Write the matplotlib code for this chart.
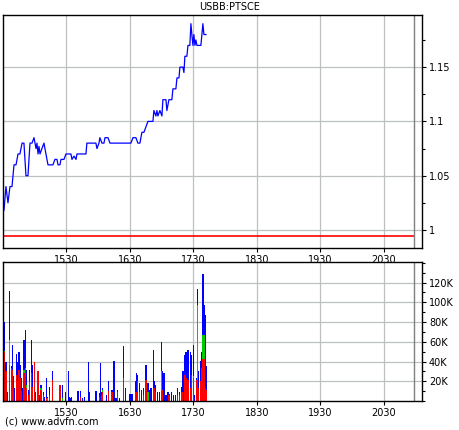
import matplotlib
matplotlib.use("Agg")
import matplotlib.pyplot as plt
from matplotlib.ticker import MultipleLocator, FixedLocator, FuncFormatter

# session starts 14:30, times are minutes after the open
open_min = 14 * 60 + 30

price_t = [0, 0.9, 2.8, 4.7, 6.6, 8.5, 10.4, 12.3, 14.2, 16, 18, 19.8, 21.7, 23.6,
           25.5, 27.4, 29.3, 31.2, 32.1, 33.1, 34, 35, 36.8, 38.7, 40.6, 42.5, 44.4,
           47.2, 49.1, 51, 52, 53.8, 54.8, 57.6, 59.5, 61.4, 64.2, 65.2, 67.1, 69,
           69.9, 72.7, 78.4, 79.3, 87.8, 88.8, 90.7, 91.6, 93.5, 95.4, 96.4, 99.2,
           101.1, 120.9, 122.8, 125.6, 127.5, 129.4, 131.3, 133.2, 135.1, 137, 138.9,
           141.7, 142.6, 144.5, 145.5, 146.4, 148.3, 150.2, 151.1, 154, 154.9, 156.8,
           159.6, 160.6, 163.4, 164.4, 166.3, 167.2, 170, 171, 171.9, 173.8, 174.8,
           176.6, 177.6, 178.5, 179.5, 180.4, 181.4, 182.3, 183.3, 185.1, 187, 188,
           188.9, 189.9, 191.8]
price = [1.028, 1.018, 1.04, 1.025, 1.04, 1.04, 1.06, 1.06, 1.07, 1.07, 1.08, 1.08,
         1.05, 1.05, 1.08, 1.08, 1.085, 1.075, 1.08, 1.07, 1.077, 1.07, 1.075, 1.08,
         1.07, 1.06, 1.06, 1.06, 1.065, 1.065, 1.06, 1.06, 1.065, 1.065, 1.07, 1.07,
         1.07, 1.065, 1.068, 1.065, 1.07, 1.07, 1.07, 1.08, 1.08, 1.075, 1.08, 1.085,
         1.08, 1.08, 1.085, 1.085, 1.08, 1.08, 1.085, 1.085, 1.08, 1.08, 1.09, 1.09,
         1.095, 1.10, 1.10, 1.10, 1.11, 1.105, 1.11, 1.105, 1.11, 1.105, 1.12, 1.12,
         1.11, 1.12, 1.12, 1.13, 1.13, 1.14, 1.14, 1.15, 1.15, 1.145, 1.16, 1.16,
         1.17, 1.17, 1.19, 1.18, 1.17, 1.18, 1.17, 1.175, 1.17, 1.17, 1.17, 1.18,
         1.19, 1.18, 1.18]
prev_close = 0.994

# volume per minute (thousands): total, buys+others level, sells level
vol_t = [1, 3, 4, 6, 8, 9, 10, 11, 13, 14, 15, 16, 17, 19, 20, 21, 22, 24, 25, 27,
         28, 30, 31, 33, 34, 36, 38, 39, 41, 42, 44, 47, 54, 56, 59, 62, 63, 64, 65,
         71, 73, 75, 77, 81, 82, 88, 91, 92, 93, 94, 98, 100, 103, 105, 106, 107, 108,
         110, 114, 116, 120, 122, 125, 126, 127, 129, 131, 133, 135, 137, 139, 140,
         142, 143, 144, 146, 148, 150, 151, 152, 154, 156, 157, 159, 161, 163, 165,
         167, 169, 170, 172, 173, 175, 177, 178, 180, 181, 183, 184, 185, 187, 188,
         189, 190, 191, 192]
vol_blue = [80, 40, 9, 111, 35, 57, 25, 13, 48, 40, 50, 36, 23, 13, 62, 72, 31, 11,
            31, 62, 36, 40, 9, 30, 6, 16, 9, 4, 23, 4, 14, 30, 16, 16, 9, 30, 4, 3, 4,
            10, 10, 3, 4, 40, 9, 10, 8, 38, 9, 13, 6, 20, 11, 41, 3, 3, 11, 3, 56, 13,
            7, 7, 20, 28, 26, 18, 11, 13, 36, 18, 11, 13, 52, 20, 16, 9, 9, 60, 30, 28,
            6, 9, 7, 9, 6, 6, 13, 9, 14, 30, 47, 50, 52, 50, 47, 57, 6, 23, 113, 30,
            41, 50, 129, 97, 87, 35]
vol_green = [51, 0, 0, 62, 0, 0, 0, 0, 0, 0, 0, 0, 0, 0, 31, 33, 16, 0, 0, 0, 0, 0, 0,
             0, 0, 13, 0, 0, 0, 3, 0, 0, 0, 3, 0, 0, 0, 0, 0, 0, 0, 0, 0, 0, 0, 0, 0, 0,
             0, 11, 0, 0, 0, 0, 0, 0, 0, 0, 0, 0, 0, 0, 0, 0, 0, 0, 0, 0, 0, 9, 0, 0, 0,
             0, 0, 0, 0, 30, 0, 0, 0, 0, 0, 0, 0, 0, 0, 0, 0, 0, 0, 0, 0, 0, 0, 25, 0, 0,
             97, 0, 0, 0, 67, 67, 0, 0]
vol_red = [50, 30, 0, 36, 33, 31, 13, 0, 26, 20, 31, 23, 10, 0, 28, 31, 13, 6, 20, 28,
           14, 40, 0, 30, 0, 11, 6, 0, 3, 0, 6, 21, 16, 0, 0, 0, 0, 0, 0, 0, 4, 0, 0,
           0, 0, 0, 4, 0, 6, 9, 0, 10, 9, 0, 0, 0, 9, 0, 23, 0, 0, 0, 9, 9, 20, 9, 0,
           6, 21, 0, 0, 0, 13, 13, 9, 0, 0, 10, 11, 0, 0, 0, 6, 0, 0, 0, 6, 6, 9, 0,
           26, 23, 21, 13, 26, 23, 0, 21, 21, 13, 20, 33, 43, 43, 13, 11]

time_ticks = [1530, 1630, 1730, 1830, 1930, 2030]

fig = plt.figure(figsize=(4.6, 4.3), dpi=100)
ax1 = fig.add_axes([3 / 460, 1 - 248 / 430, 419 / 460, 233 / 430])
ax2 = fig.add_axes([3 / 460, 1 - 401 / 430, 419 / 460, 139 / 430])

grid_c = "#bcc0c0"
close_min = open_min + 388
xs = [open_min + t for t in price_t]
ax1.plot(xs, price, color="#0000ff", lw=0.9)
ax1.hlines(prev_close, open_min, close_min, color="#ff0000", lw=1.2)

vx = [open_min + t for t in vol_t]
ax2.bar(vx, vol_blue, width=1.3, color="#0000ff", linewidth=0)
ax2.bar(vx, vol_green, width=1.3, color="#00cc00", linewidth=0)
ax2.bar(vx, vol_red, width=1.3, color="#ff0000", linewidth=0)

tick_pos = [(t // 100) * 60 + t % 100 for t in time_ticks]
for ax in (ax1, ax2):
    ax.set_xlim(open_min, open_min + 396)
    ax.xaxis.set_major_locator(FixedLocator(tick_pos))
    ax.set_xticklabels([str(t) for t in time_ticks])
    ax.axvline(close_min, color="#808080", lw=1)
    ax.grid(True, color=grid_c, lw=0.9)
    ax.set_axisbelow(True)
    ax.yaxis.tick_right()
    ax.tick_params(axis="both", labelsize=7, length=3, width=0.8, pad=2,
                   colors="black")
    ax.tick_params(axis="y", which="minor", length=2, width=0.8)
    for s in ax.spines.values():
        s.set_linewidth(1.0)

ax1.set_ylim(0.9834, 1.198)
ax1.yaxis.set_major_locator(MultipleLocator(0.05))
ax1.yaxis.set_minor_locator(MultipleLocator(0.025))
ax1.yaxis.set_major_formatter(FuncFormatter(lambda v, p: f"{v:g}"))

ax2.set_ylim(0, 140.8)
ax2.yaxis.set_major_locator(FixedLocator([20, 40, 60, 80, 100, 120]))
ax2.yaxis.set_minor_locator(MultipleLocator(10))
ax2.yaxis.set_major_formatter(FuncFormatter(lambda v, p: f"{v:.0f}K"))

fig.text(0.5, 1 - 7 / 430, "USBB:PTSCE", ha="center", va="center", fontsize=7)
fig.text(5 / 460, 1 - 422 / 430, "(c) www.advfn.com", ha="left", va="center",
         fontsize=7)

fig.savefig("out.png", dpi=100, facecolor="white")
